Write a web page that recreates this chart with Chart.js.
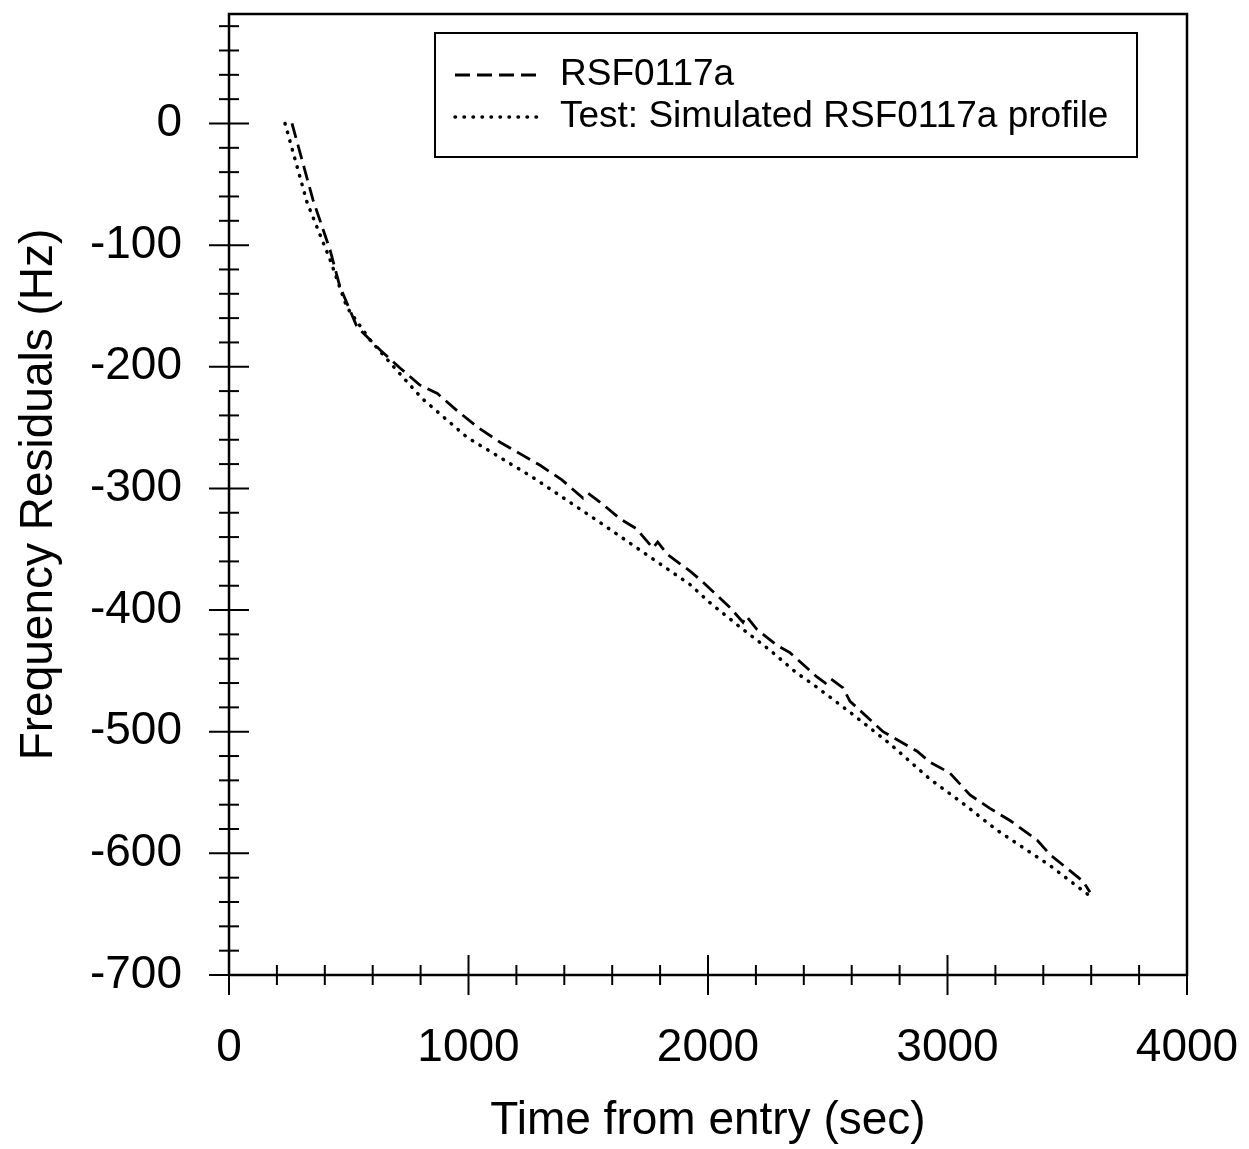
<!DOCTYPE html>
<html>
<head>
<meta charset="utf-8">
<script src="https://cdn.jsdelivr.net/npm/chart.js@4.4.0/dist/chart.umd.min.js"></script>
<style>
  html, body { margin: 0; padding: 0; background: #fff; }
  #wrap { width: 1249px; height: 1149px; }
</style>
</head>
<body>
<div id="wrap"><canvas id="chart" width="1249" height="1149"></canvas></div>
<script>
// measured RSF0117a residuals (dashed)
const rsfTime = [263, 351, 422, 463, 534, 630, 714, 797, 870, 952, 1040, 1132, 1220, 1299, 1390, 1478, 1500, 1560, 1633, 1700, 1770, 1790, 1829, 1925, 1979, 2092, 2146, 2160, 2205, 2288, 2342, 2455, 2490, 2509, 2564, 2593, 2731, 2873, 2927, 3010, 3094, 3177, 3261, 3374, 3428, 3566, 3595];
const rsfFreq = [0, -63, -104, -134, -167, -186, -201, -215, -222, -236, -250, -262, -272, -281, -293, -308, -304, -313, -325, -333, -349, -344, -354, -368, -377, -398, -410, -405, -416, -429, -435, -455, -460, -456, -464, -475, -500, -516, -525, -534, -552, -563, -573, -589, -601, -623, -632];

// simulated profile (dotted)
const simTime = [234, 326, 422, 492, 589, 701, 806, 994, 1269, 1549, 1770, 1925, 2008, 2134, 2259, 2372, 2438, 2593, 2760, 2927, 3065, 3207, 3344, 3428, 3587];
const simFreq = [0, -65, -112, -151, -178, -203, -226, -258, -291, -328, -358, -379, -394, -414, -433, -452, -461, -484, -510, -539, -559, -581, -599, -610, -634];

const xTickLabels = [0, 1000, 2000, 3000, 4000];
const yTickLabels = [0, -100, -200, -300, -400, -500, -600, -700];
const xMinorStep = 200;
const yMinorStep = 20;

function toPoints(xs, ys) {
    return xs.map((x, i) => ({ x: x, y: ys[i] }));
}

function stepTicks(min, max, step) {
    const out = [];
    for (let v = min; v <= max + 1e-6; v += step) out.push({ value: v });
    return out;
}

const axisFont = { family: 'Liberation Sans, Arial, sans-serif', size: 46 };

// frame, ticks crossing the axes, and boxed legend
const decorPlugin = {
    id: 'decor',
    afterDraw(chart) {
        const ctx = chart.ctx;
        const a = chart.chartArea;
        const xs = chart.scales.x;
        const ys = chart.scales.y;
        ctx.save();
        ctx.strokeStyle = '#000';
        ctx.lineWidth = 2.5;
        ctx.setLineDash([]);
        ctx.strokeRect(a.left, a.top, a.right - a.left, a.bottom - a.top);

        ctx.lineWidth = 2;
        ys.ticks.forEach(t => {
            const y = ys.getPixelForValue(t.value);
            const len = yTickLabels.includes(t.value) ? 20 : 10;
            ctx.beginPath();
            ctx.moveTo(a.left - len, y);
            ctx.lineTo(a.left + len, y);
            ctx.stroke();
        });
        xs.ticks.forEach(t => {
            const x = xs.getPixelForValue(t.value);
            const len = xTickLabels.includes(t.value) ? 20 : 10;
            ctx.beginPath();
            ctx.moveTo(x, a.bottom - len);
            ctx.lineTo(x, a.bottom + len);
            ctx.stroke();
        });

        // legend
        ctx.lineWidth = 2;
        ctx.strokeRect(435, 33, 702, 124);
        const rows = [75, 117];
        chart.data.datasets.forEach((ds, i) => {
            ctx.beginPath();
            ctx.lineWidth = ds.borderWidth;
            ctx.lineCap = ds.borderCapStyle || 'butt';
            ctx.setLineDash(ds.borderDash);
            ctx.moveTo(455, rows[i]);
            ctx.lineTo(540, rows[i]);
            ctx.stroke();
            ctx.setLineDash([]);
            ctx.lineCap = 'butt';
            ctx.fillStyle = '#000';
            ctx.font = '37px Liberation Sans, Arial, sans-serif';
            ctx.textAlign = 'left';
            ctx.textBaseline = 'middle';
            ctx.fillText(ds.label, 560, rows[i]);
        });
        ctx.restore();
    }
};

new Chart(document.getElementById('chart'), {
    type: 'line',
    data: {
        datasets: [{
            label: 'RSF0117a',
            data: toPoints(rsfTime, rsfFreq),
            borderColor: '#000',
            borderWidth: 2.8,
            borderDash: [15, 7],
            pointRadius: 0,
            tension: 0,
            fill: false
        }, {
            label: 'Test: Simulated RSF0117a profile',
            data: toPoints(simTime, simFreq),
            borderColor: '#000',
            borderWidth: 3.5,
            borderDash: [0.5, 8.5],
            borderCapStyle: 'round',
            pointRadius: 0,
            tension: 0,
            fill: false
        }]
    },
    options: {
        responsive: false,
        animation: false,
        layout: { padding: { top: 14, right: 62, left: 0, bottom: 0 } },
        plugins: { legend: { display: false }, tooltip: { enabled: false } },
        scales: {
            x: {
                type: 'linear',
                min: 0,
                max: 4000,
                afterBuildTicks: s => { s.ticks = stepTicks(0, 4000, xMinorStep); },
                afterFit: s => { s.height = 174; s.paddingLeft = 0; s.paddingRight = 0; },
                grid: { display: false, drawTicks: false },
                border: { display: false },
                ticks: {
                    autoSkip: false,
                    maxRotation: 0,
                    padding: 46,
                    color: '#000',
                    font: axisFont,
                    callback: v => xTickLabels.includes(v) ? String(v) : ''
                },
                title: {
                    display: true,
                    text: 'Time from entry (sec)',
                    color: '#000',
                    font: axisFont,
                    padding: { top: 0, bottom: 0 }
                }
            },
            y: {
                type: 'linear',
                min: -700,
                max: 90,
                afterBuildTicks: s => { s.ticks = stepTicks(-700, 80, yMinorStep); },
                afterFit: s => { s.width = 229; s.paddingTop = 0; s.paddingBottom = 0; },
                grid: { display: false, drawTicks: false },
                border: { display: false },
                ticks: {
                    autoSkip: false,
                    padding: 47,
                    color: '#000',
                    font: axisFont,
                    callback: v => yTickLabels.includes(v) ? String(v) : ''
                },
                title: {
                    display: true,
                    text: 'Frequency Residuals (Hz)',
                    color: '#000',
                    font: axisFont,
                    padding: { top: 12, bottom: 0 }
                }
            }
        }
    },
    plugins: [decorPlugin]
});
</script>
</body>
</html>
